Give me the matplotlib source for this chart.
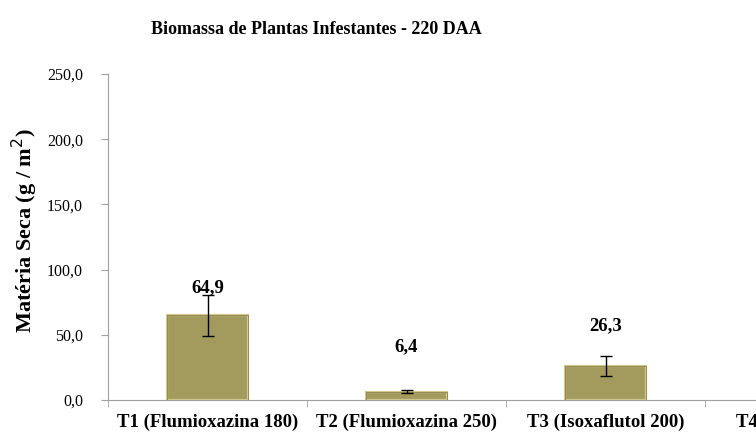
import matplotlib
matplotlib.use("Agg")
import matplotlib.pyplot as plt
import numpy as np

# dados do gráfico
categorias = ["T1 (Flumioxazina 180)", "T2 (Flumioxazina 250)",
              "T3 (Isoxaflutol 200)", "T4 (Testemunha)"]
valores = [64.9, 6.4, 26.3]
erros = [16.0, 1.0, 7.7]
rotulos = ["64,9", "6,4", "26,3"]
rotulo_y = [86.0, 41.0, 57.0]
yticks = [0, 50, 100, 150, 200, 250]

plt.rcParams['font.family'] = ['Liberation Serif', 'DejaVu Serif']

fig = plt.figure(figsize=(7.56, 4.32), dpi=100)
# eixo mais largo que a figura (T4 fica cortado como no original)
ax = fig.add_axes([108 / 756, 32 / 432, 796 / 756, 326 / 432])

x = np.arange(len(valores))
ax.bar(x, valores, width=0.41, color='#A39A5E', edgecolor='#D2C98F',
       linewidth=1.6, zorder=2)
ax.bar(x, valores, width=0.41, color='none', edgecolor='#8C8248',
       linewidth=0.6, zorder=3)
ax.errorbar(x, valores, yerr=erros, fmt='none', ecolor='black',
            elinewidth=1, capsize=4, capthick=1, zorder=4)
for xi, txt, yl in zip(x, rotulos, rotulo_y):
    ax.text(xi, yl, txt, ha='center', va='center', fontsize=13.5,
            fontweight='bold')

ax.set_xlim(-0.5, len(categorias) - 0.5)
ax.set_ylim(0, 250)
ax.set_yticks(yticks)
ax.set_yticklabels([f"{v:.1f}".replace('.', ',') for v in yticks],
                   fontsize=11.5)
ax.set_xticks(np.arange(len(categorias)))
ax.set_xticklabels(categorias, fontsize=13.5, fontweight='bold')
ax.set_xticks(np.arange(len(categorias) + 1) - 0.5, minor=True)
ax.tick_params(axis='x', which='major', length=0, pad=10)
ax.tick_params(axis='x', which='minor', length=5, color='#A0A0A0')
ax.tick_params(axis='y', length=5, color='#A0A0A0', pad=13)

for s in ['top', 'right']:
    ax.spines[s].set_visible(False)
for s in ['left', 'bottom']:
    ax.spines[s].set_color('#A0A0A0')

ax.set_ylabel("Matéria Seca (g / m$^2$)", fontsize=16, fontweight='bold')
ax.yaxis.set_label_coords(-68 / 796, 0.52)

fig.text(316 / 756, 1 - 30 / 432, "Biomassa de Plantas Infestantes - 220 DAA",
         ha='center', va='center', fontsize=13, fontweight='bold')

fig.savefig("out.png", dpi=100)
